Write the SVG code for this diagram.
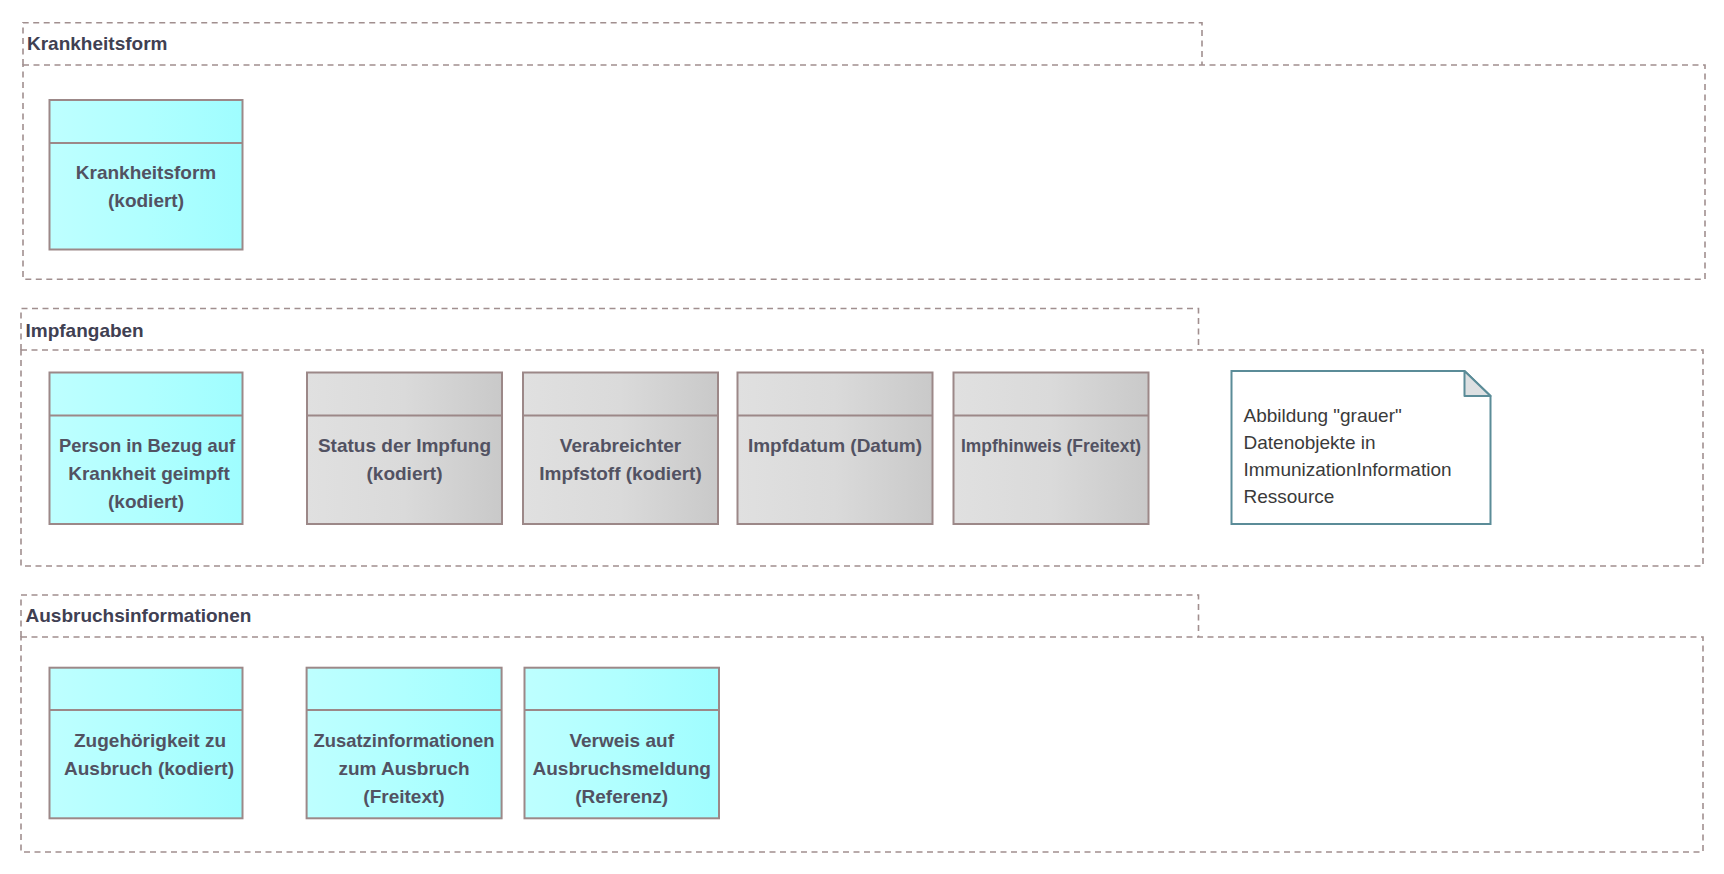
<svg xmlns="http://www.w3.org/2000/svg" width="1724" height="874" viewBox="0 0 1724 874">
<defs>
<linearGradient id="cyan" x1="0" y1="0" x2="1" y2="0">
<stop offset="0" stop-color="#beffff"/>
<stop offset="0.5" stop-color="#b0ffff"/>
<stop offset="1" stop-color="#9ffdff"/>
</linearGradient>
<linearGradient id="gray" x1="0" y1="0" x2="1" y2="0">
<stop offset="0" stop-color="#e0e0e0"/>
<stop offset="0.5" stop-color="#dadada"/>
<stop offset="1" stop-color="#c9c9c9"/>
</linearGradient>
<style>
.frame{fill:none;stroke:#a18f8f;stroke-width:1.6;stroke-dasharray:6 4.5}
.ctab{font-family:"Liberation Sans",Arial,sans-serif;font-weight:bold;font-size:19px;fill:#404052}
.box{stroke:#9c8888;stroke-width:2}
.cy{fill:url(#cyan)}
.gr{fill:url(#gray)}
.div{stroke:#9c8888;stroke-width:2}
.lbl{font-family:"Liberation Sans",Arial,sans-serif;font-weight:bold;font-size:19px;fill:#525262;text-anchor:middle}
.note{fill:#ffffff;stroke:#5b8c98;stroke-width:2}
.fold{fill:#dde0e2;stroke:#5b8c98;stroke-width:2;stroke-linejoin:round}
.ntxt{font-family:"Liberation Sans",Arial,sans-serif;font-size:19px;fill:#3a3a3a}
</style>
</defs>

<g id="sec-krankheitsform">
<path class="frame" d="M23,65 V22.7 H1202 V65"/>
<rect class="frame" x="23" y="65" width="1682" height="214.3"/>
<text class="ctab" x="27" y="50">Krankheitsform</text>
</g>

<g id="sec-impfangaben">
<path class="frame" d="M21,350 V308.5 H1198.5 V350"/>
<rect class="frame" x="21" y="350" width="1682" height="216"/>
<text class="ctab" x="25.5" y="336.5">Impfangaben</text>
</g>

<g id="sec-ausbruch">
<path class="frame" d="M21,637 V595 H1198.5 V637"/>
<rect class="frame" x="21" y="637" width="1682" height="215"/>
<text class="ctab" x="25.5" y="622">Ausbruchsinformationen</text>
</g>

<g id="n-krankheitsform">
<rect class="box cy" x="49.5" y="100" width="193" height="149.5"/>
<line class="div" x1="49.5" y1="143" x2="242.5" y2="143"/>
<text class="lbl" x="146" y="179.3">Krankheitsform</text>
<text class="lbl" x="146" y="207.3">(kodiert)</text>
</g>

<g id="n-person">
<rect class="box cy" x="49.5" y="372.5" width="193" height="151.5"/>
<line class="div" x1="49.5" y1="415.5" x2="242.5" y2="415.5"/>
<text class="lbl" x="147" y="451.7" textLength="176" lengthAdjust="spacingAndGlyphs">Person in Bezug auf</text>
<text class="lbl" x="149" y="479.7">Krankheit geimpft</text>
<text class="lbl" x="146" y="507.7">(kodiert)</text>
</g>

<g id="n-status">
<rect class="box gr" x="307" y="372.5" width="195" height="151.5"/>
<line class="div" x1="307" y1="415.5" x2="502" y2="415.5"/>
<text class="lbl" x="404.5" y="451.7">Status der Impfung</text>
<text class="lbl" x="404.5" y="479.7">(kodiert)</text>
</g>

<g id="n-impfstoff">
<rect class="box gr" x="523" y="372.5" width="195" height="151.5"/>
<line class="div" x1="523" y1="415.5" x2="718" y2="415.5"/>
<text class="lbl" x="620.5" y="451.7">Verabreichter</text>
<text class="lbl" x="620.5" y="479.7">Impfstoff (kodiert)</text>
</g>

<g id="n-impfdatum">
<rect class="box gr" x="737.5" y="372.5" width="195" height="151.5"/>
<line class="div" x1="737.5" y1="415.5" x2="932.5" y2="415.5"/>
<text class="lbl" x="835" y="451.7">Impfdatum (Datum)</text>
</g>

<g id="n-impfhinweis">
<rect class="box gr" x="953.5" y="372.5" width="195" height="151.5"/>
<line class="div" x1="953.5" y1="415.5" x2="1148.5" y2="415.5"/>
<text class="lbl" x="1051" y="451.7" textLength="180" lengthAdjust="spacingAndGlyphs">Impfhinweis (Freitext)</text>
</g>

<g id="note">
<path class="note" d="M1231.5,371 H1464.5 L1490.5,396 V524 H1231.5 Z"/>
<path class="fold" d="M1464.5,371 V396 H1490.5 Z"/>
<text class="ntxt" x="1243.5" y="421.7">Abbildung "grauer"</text>
<text class="ntxt" x="1243.5" y="448.7">Datenobjekte in</text>
<text class="ntxt" x="1243.5" y="475.5">ImmunizationInformation</text>
<text class="ntxt" x="1243.5" y="502.7">Ressource</text>
</g>

<g id="n-zugehoerigkeit">
<rect class="box cy" x="49.5" y="667.7" width="193" height="150.6"/>
<line class="div" x1="49.5" y1="710" x2="242.5" y2="710"/>
<text class="lbl" x="150" y="746.5">Zugehörigkeit zu</text>
<text class="lbl" x="149" y="774.5">Ausbruch (kodiert)</text>
</g>

<g id="n-zusatz">
<rect class="box cy" x="306.6" y="667.7" width="195" height="150.6"/>
<line class="div" x1="306.6" y1="710" x2="501.6" y2="710"/>
<text class="lbl" x="404" y="746.5" textLength="181" lengthAdjust="spacingAndGlyphs">Zusatzinformationen</text>
<text class="lbl" x="404" y="774.5">zum Ausbruch</text>
<text class="lbl" x="404" y="802.5">(Freitext)</text>
</g>

<g id="n-verweis">
<rect class="box cy" x="524.5" y="667.7" width="194.5" height="150.6"/>
<line class="div" x1="524.5" y1="710" x2="719" y2="710"/>
<text class="lbl" x="621.7" y="746.5">Verweis auf</text>
<text class="lbl" x="621.7" y="774.5">Ausbruchsmeldung</text>
<text class="lbl" x="621.7" y="802.5">(Referenz)</text>
</g>

<g id="connectors"></g>
</svg>
